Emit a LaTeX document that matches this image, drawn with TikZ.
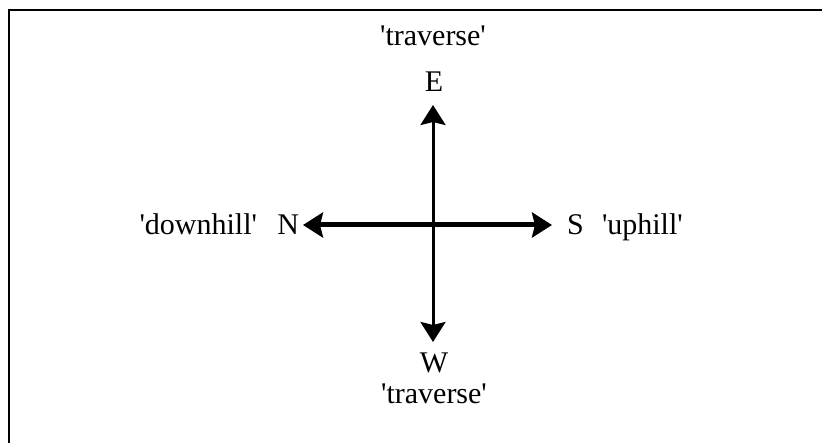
\documentclass[tikz,border=0pt]{standalone}
\usepackage{fontspec}
\setmainfont{Liberation Serif}
\usetikzlibrary{arrows.meta}
\newcommand\qq{\textquotesingle}
\begin{document}
\begin{tikzpicture}[x=1pt,y=-1pt,
  lbl/.style={inner sep=0pt,outer sep=0pt,anchor=base,font=\fontsize{30}{30}\selectfont},
  arr/.style={{Stealth[length=20pt,width=25pt,inset=3pt]}-{Stealth[length=20pt,width=25pt,inset=3pt]}},
  frame/.style={line width=2.5pt}]
\useasboundingbox (0,0) rectangle (822,443);
\draw[frame] (9,443) -- (9,10) -- (822,10);
% labels
\node[lbl] (tE) at (433,46) {\qq traverse\qq};
\node[lbl] (E) at (434,92) {E};
\node[lbl] (W) at (434,373) {W};
\node[lbl] (tW) at (434,404) {\qq traverse\qq};
\node[lbl,anchor=base east] (N) at (299,235) {N};
\node[lbl,anchor=base east] (dn) at (257,235) {\qq downhill\qq};
\node[lbl,anchor=base west] (S) at (567,235) {S};
\node[lbl,anchor=base west] (up) at (602,235) {\qq uphill\qq};
% arrow ends
\coordinate (eTip) at (433,105);
\coordinate (wTip) at (433,342);
\coordinate (nTip) at (303,225);
\coordinate (sTip) at (552,225);
\draw[arr,line width=3pt] (eTip) -- (wTip);
\draw[arr,line width=5pt] (nTip) -- (sTip);
\end{tikzpicture}
\end{document}
